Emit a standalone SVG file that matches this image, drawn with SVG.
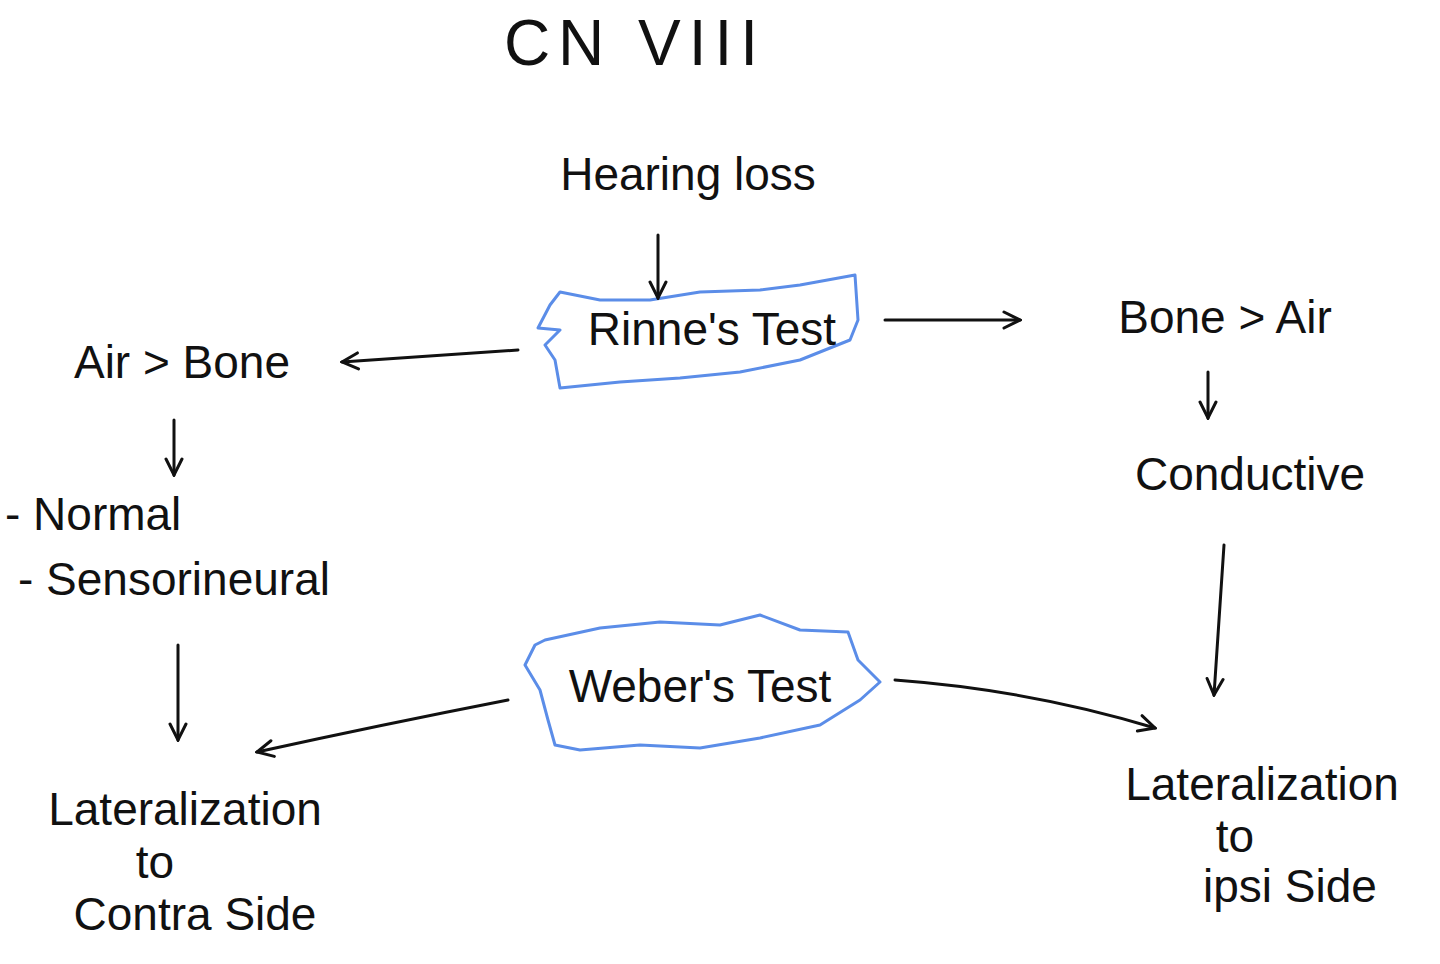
<svg xmlns="http://www.w3.org/2000/svg" width="1440" height="964" viewBox="0 0 1440 964">
<defs>
<marker id="ah" viewBox="0 0 20 20" refX="18" refY="10" markerWidth="20" markerHeight="20" markerUnits="userSpaceOnUse" orient="auto">
<path d="M2,2 L18,10 L2,18" fill="none" stroke="#111" stroke-width="3" stroke-linecap="round"/>
</marker>
</defs>
<style>
text{font-family:"Liberation Sans",Arial,sans-serif;fill:#111;text-anchor:middle}
.t{font-size:46px}
.s{text-anchor:start}
.c{fill:none;stroke:#111;stroke-width:3;stroke-linecap:round;marker-end:url(#ah)}
.blob{fill:none;stroke:#5b8de8;stroke-width:3;stroke-linejoin:round}
</style>
<rect width="1440" height="964" fill="#fff"/>
<g id="title"><text x="635" y="65" font-size="64" letter-spacing="8">CN VIII</text></g>
<g id="hearing"><text class="t" x="688" y="190">Hearing loss</text></g>
<g id="rinne">
<path class="blob" d="M560,292 L600,300 L650,300 L700,292 L760,290 L800,285 L855,275 L858,320 L850,340 L800,360 L740,372 L680,378 L620,382 L560,388 L555,360 L545,345 L560,330 L538,328 L550,305 Z"/>
<text class="t" x="712" y="345">Rinne's Test</text>
</g>
<g id="airbone"><text class="t" x="182" y="378">Air &gt; Bone</text></g>
<g id="boneair"><text class="t" x="1225" y="333">Bone &gt; Air</text></g>
<g id="conductive"><text class="t" x="1250" y="490">Conductive</text></g>
<g id="normal"><text class="t s" x="5" y="530">-  Normal</text><text class="t s" x="18" y="595">-  Sensorineural</text></g>
<g id="weber">
<path class="blob" d="M545,640 L600,628 L660,622 L720,625 L760,615 L800,630 L848,632 L858,660 L880,682 L860,700 L820,725 L760,738 L700,748 L640,745 L580,750 L555,745 L548,720 L540,690 L525,665 L535,645 Z"/>
<text class="t" x="700" y="702">Weber's Test</text>
</g>
<g id="contra"><text class="t" x="185" y="825">Lateralization</text><text class="t" x="155" y="878">to</text><text class="t" x="195" y="930">Contra Side</text></g>
<g id="ipsi"><text class="t" x="1262" y="800">Lateralization</text><text class="t" x="1235" y="852">to</text><text class="t" x="1290" y="902">ipsi   Side</text></g>
<g id="connectors">
<path class="c" d="M658,235 L658,298"/>
<path class="c" d="M518,350 L342,362"/>
<path class="c" d="M885,320 L1020,320"/>
<path class="c" d="M1208,372 L1208,418"/>
<path class="c" d="M174,420 L174,475"/>
<path class="c" d="M178,645 L178,740"/>
<path class="c" d="M508,700 Q380,725 257,752"/>
<path class="c" d="M895,680 Q1030,690 1155,728"/>
<path class="c" d="M1224,545 L1214,695"/>
</g>
</svg>
